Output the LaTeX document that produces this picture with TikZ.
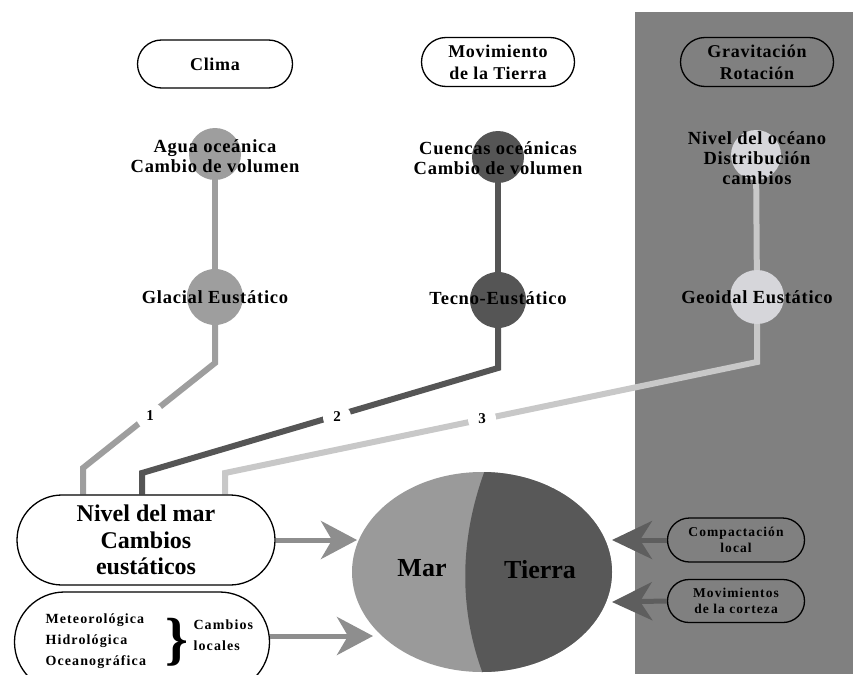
\documentclass[tikz,border=0pt]{standalone}
\usepackage{fontspec}
\setmainfont{Liberation Serif}
\newfontfamily\spacedA{Liberation Serif}[LetterSpace=4]
\newfontfamily\spacedB{Liberation Serif}[LetterSpace=8]
\usetikzlibrary{shapes.misc,shapes.geometric,arrows.meta}
\pgfdeclarelayer{panel}
\pgfdeclarelayer{lines}
\pgfsetlayers{panel,lines,main}
\definecolor{panelgray}{HTML}{808080}
\definecolor{lightC}{HTML}{9E9E9E}
\definecolor{darkC}{HTML}{555555}
\definecolor{paleC}{HTML}{D6D6DA}
\definecolor{paleL}{HTML}{C8C8C8}
\definecolor{marC}{HTML}{9A9A9A}
\definecolor{tierraC}{HTML}{585858}
\definecolor{arrLC}{HTML}{8E8E8E}
\definecolor{arrRC}{HTML}{5E5E5E}
\newcommand{\myfs}[2]{\fontsize{#1}{#2}\selectfont}
\begin{document}
\begin{tikzpicture}[x=1pt,y=-1pt,
  pill/.style={rounded rectangle, draw=black, line width=1.3pt, fill=white, align=center, font=\spacedA\bfseries\myfs{18}{22}, inner sep=0pt},
  dot/.style={circle, inner sep=0pt, minimum size=#1},
  lab/.style={align=center, font=\spacedA\bfseries\myfs{18.5}{20}},
  conn/.style={line width=6pt, line join=miter},
  num/.style={circle, fill=white, inner sep=0pt, minimum size=28pt, font=\bfseries\myfs{15}{15}},
  arrL/.style={draw=arrLC, line width=5pt, -{Stealth[length=36pt,width=38pt,inset=11pt]}},
  arrR/.style={draw=arrRC, line width=5pt, -{Stealth[length=40pt,width=38pt,inset=12pt]}},
  small/.style={font=\spacedB\bfseries\myfs{14}{21}}
]
\useasboundingbox (0,0) rectangle (853,674);
\clip (0,0) rectangle (853,674);
\begin{pgfonlayer}{panel}
\fill[white] (0,0) rectangle (853,674);
\fill[panelgray] (635,12) rectangle (853,674);
\end{pgfonlayer}

% top headers
\node[pill, minimum width=155pt, minimum height=48pt] (clima) at (215,64) {Clima};
\node[pill, minimum width=153pt, minimum height=49pt] (mov) at (498,62) {Movimiento\\de la Tierra};
\node[pill, fill=none, minimum width=153pt, minimum height=49pt] (grav) at (757,62) {Gravitación\\Rotación};

% circles
\node[dot=52pt, fill=lightC] (c1a) at (215,154) {};
\node[dot=56pt, fill=lightC] (c1b) at (215,297) {};
\node[dot=52pt, fill=darkC] (c2a) at (498,157) {};
\node[dot=56pt, fill=darkC] (c2b) at (498,300) {};
\node[dot=50pt, fill=paleC] (c3a) at (756,155) {};
\node[dot=54pt, fill=paleC] (c3b) at (757,297) {};

% circle labels
\node[lab] (t1a) at (215,156) {Agua oceánica\\Cambio de volumen};
\node[lab] (t1b) at (215,297) {Glacial Eustático};
\node[lab] (t2a) at (498,158) {Cuencas oceánicas\\Cambio de volumen};
\node[lab] (t2b) at (498,298) {Tecno-Eustático};
\node[lab] (t3a) at (757,158) {Nivel del océano\\Distribución\\cambios};
\node[lab] (t3b) at (757,297) {Geoidal Eustático};

% sea-level box
\node[pill, minimum width=258pt, minimum height=90pt, font=\bfseries\myfs{24}{26.5}] (nivel) at (146,540) {Nivel del mar\\Cambios\\eustáticos};
\node[pill, minimum width=255pt, minimum height=100pt] (local) at (142,642) {};
\node[small, align=left, anchor=west] (met) at (42,641) {Meteorológica\\Hidrológica\\Oceanográfica};
\node[font=\bfseries\myfs{58}{58}, inner sep=0pt] (br) at (177,642) {\}};
\node[small, align=left, anchor=west] (cl) at (190,635) {Cambios\\locales};

% corner coordinates
\coordinate (b1) at (215,363);
\coordinate (b2) at (83,468);
\coordinate (b3) at (498,368);
\coordinate (b4) at (142,473);
\coordinate (b5) at (757,362);
\coordinate (b6) at (225,473);

\begin{pgfonlayer}{lines}
\draw[conn, draw=lightC] (c1a.center) -- (c1b.center);
\draw[conn, draw=darkC] (c2a.center) -- (c2b.center);
\draw[conn, draw=paleL] (c3a.center) -- (c3b.center);
\draw[conn, draw=lightC] (c1b.center) -- (b1) -- (b2) -- (b2 |- nivel.north);
\draw[conn, draw=darkC] (c2b.center) -- (b3) -- (b4) -- (b4 |- nivel.north);
\draw[conn, draw=paleL] (c3b.center) -- (b5) -- (b6) -- (b6 |- nivel.north);
\end{pgfonlayer}

\node[num] (n1) at (150,416) {1};
\node[num] (n2) at (337,417) {2};
\node[num] (n3) at (482,419) {3};

% globe
\node[ellipse, minimum width=260pt, minimum height=200pt, fill=marC, inner sep=0pt] (globe) at (482,572) {};
\begin{scope}
\clip (482,572) ellipse [x radius=130pt, y radius=100pt];
\fill[tierraC] (485,470) .. controls (459,540) and (459,610) .. (483,674) -- (620,674) -- (620,470) -- cycle;
\end{scope}
\node[font=\bfseries\myfs{26}{26}] (mar) at (422,568) {Mar};
\node[font=\bfseries\myfs{26}{26}] (tierra) at (540,570) {Tierra};

% right boxes
\node[pill, fill=none, minimum width=137pt, minimum height=44pt, font=\spacedB\bfseries\myfs{13.5}{16}] (comp) at (736,540) {Compactación\\local};
\node[pill, fill=none, minimum width=137pt, minimum height=43pt, font=\spacedB\bfseries\myfs{13.5}{16}] (movc) at (736,601) {Movimientos\\de la corteza};

% arrows
\coordinate (a1) at (357,540);
\coordinate (a2) at (373,636);
\coordinate (a3) at (612,540);
\coordinate (a4) at (612,602);
\draw[arrL] (nivel.east) -- (a1);
\draw[arrL] (local.east |- a2) -- (a2);
\draw[arrR] (comp.west) -- (a3);
\draw[arrR] (movc.west) -- (a4);
\end{tikzpicture}
\end{document}
